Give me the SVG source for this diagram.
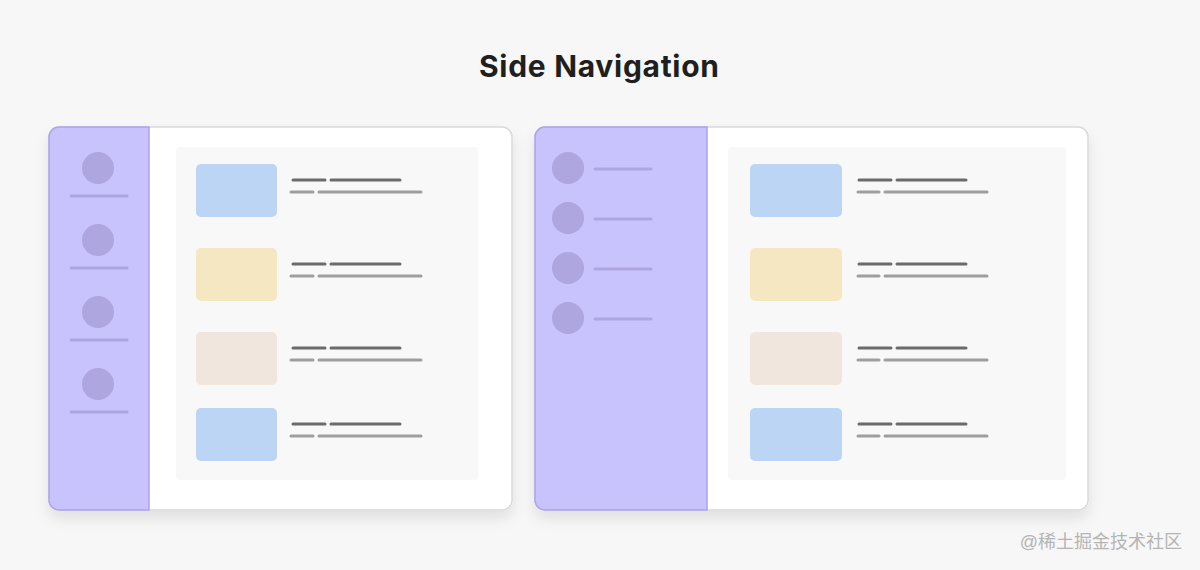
<svg xmlns="http://www.w3.org/2000/svg" width="1200" height="570" viewBox="0 0 1200 570">
  <defs>
    <filter id="shadow" x="-10%" y="-10%" width="120%" height="130%">
      <feDropShadow dx="0" dy="8" stdDeviation="7" flood-color="#000" flood-opacity="0.09"/>
    </filter>
    <style>
      .card{fill:#ffffff;stroke:#dadada;stroke-width:1.5}
      .side{fill:#c8c3fd;stroke:#aba4ea;stroke-width:1.5}
      .panel{fill:#f8f8f8}
      .icon{fill:#aea6de}
      .navline{stroke:#aea6de;stroke-width:3;stroke-linecap:round}
      .l1{stroke:#6b6b6b;stroke-width:3;stroke-linecap:round}
      .l2{stroke:#9e9e9e;stroke-width:3;stroke-linecap:round}
      .blue{fill:#bcd5f5}
      .yellow{fill:#f5e7c1}
      .beige{fill:#f1e6dd}
      .title{font-family:Inter,"Liberation Sans",sans-serif;font-weight:700;font-size:30px;fill:#1f1f1f}
      .wm{font-family:"Liberation Sans","Noto Sans CJK SC",sans-serif;font-size:18px;fill:#b4b4b4}
    </style>
  </defs>
  <rect width="1200" height="570" fill="#f7f7f7"/>
  <text class="title" x="479" y="77" textLength="240" lengthAdjust="spacing">Side Navigation</text>

  <g id="card-left">
    <rect class="card" x="49" y="127" width="463" height="383" rx="10" filter="url(#shadow)"/>
    <path class="side" d="M149,127 H59 A10,10 0 0 0 49,137 V500 A10,10 0 0 0 59,510 H149 Z"/>
    <g id="left-nav">
      <circle class="icon" cx="98" cy="168" r="16"/>
      <line class="navline" x1="71" y1="196" x2="127" y2="196"/>
      <circle class="icon" cx="98" cy="240" r="16"/>
      <line class="navline" x1="71" y1="268" x2="127" y2="268"/>
      <circle class="icon" cx="98" cy="312" r="16"/>
      <line class="navline" x1="71" y1="340" x2="127" y2="340"/>
      <circle class="icon" cx="98" cy="384" r="16"/>
      <line class="navline" x1="71" y1="412" x2="127" y2="412"/>
    </g>
    <rect class="panel" x="176" y="147" width="302" height="333" rx="4"/>
    <g id="left-items">
      <rect class="blue" x="196" y="164" width="81" height="53" rx="5"/>
      <line class="l1" x1="293" y1="180" x2="325" y2="180"/><line class="l1" x1="331" y1="180" x2="400" y2="180"/>
      <line class="l2" x1="291" y1="192" x2="313" y2="192"/><line class="l2" x1="319" y1="192" x2="421" y2="192"/>

      <rect class="yellow" x="196" y="248" width="81" height="53" rx="5"/>
      <line class="l1" x1="293" y1="264" x2="325" y2="264"/><line class="l1" x1="331" y1="264" x2="400" y2="264"/>
      <line class="l2" x1="291" y1="276" x2="313" y2="276"/><line class="l2" x1="319" y1="276" x2="421" y2="276"/>

      <rect class="beige" x="196" y="332" width="81" height="53" rx="5"/>
      <line class="l1" x1="293" y1="348" x2="325" y2="348"/><line class="l1" x1="331" y1="348" x2="400" y2="348"/>
      <line class="l2" x1="291" y1="360" x2="313" y2="360"/><line class="l2" x1="319" y1="360" x2="421" y2="360"/>

      <rect class="blue" x="196" y="408" width="81" height="53" rx="5"/>
      <line class="l1" x1="293" y1="424" x2="325" y2="424"/><line class="l1" x1="331" y1="424" x2="400" y2="424"/>
      <line class="l2" x1="291" y1="436" x2="313" y2="436"/><line class="l2" x1="319" y1="436" x2="421" y2="436"/>
    </g>
  </g>

  <g id="card-right">
    <rect class="card" x="535" y="127" width="553" height="383" rx="10" filter="url(#shadow)"/>
    <path class="side" d="M707,127 H545 A10,10 0 0 0 535,137 V500 A10,10 0 0 0 545,510 H707 Z"/>
    <g id="right-nav">
      <circle class="icon" cx="568" cy="168" r="16"/>
      <line class="navline" x1="595" y1="169" x2="651" y2="169"/>
      <circle class="icon" cx="568" cy="218" r="16"/>
      <line class="navline" x1="595" y1="219" x2="651" y2="219"/>
      <circle class="icon" cx="568" cy="268" r="16"/>
      <line class="navline" x1="595" y1="269" x2="651" y2="269"/>
      <circle class="icon" cx="568" cy="318" r="16"/>
      <line class="navline" x1="595" y1="319" x2="651" y2="319"/>
    </g>
    <rect class="panel" x="728" y="147" width="338" height="333" rx="4"/>
    <g id="right-items">
      <rect class="blue" x="750" y="164" width="92" height="53" rx="5"/>
      <line class="l1" x1="859" y1="180" x2="891" y2="180"/><line class="l1" x1="897" y1="180" x2="966" y2="180"/>
      <line class="l2" x1="858" y1="192" x2="879" y2="192"/><line class="l2" x1="885" y1="192" x2="987" y2="192"/>

      <rect class="yellow" x="750" y="248" width="92" height="53" rx="5"/>
      <line class="l1" x1="859" y1="264" x2="891" y2="264"/><line class="l1" x1="897" y1="264" x2="966" y2="264"/>
      <line class="l2" x1="858" y1="276" x2="879" y2="276"/><line class="l2" x1="885" y1="276" x2="987" y2="276"/>

      <rect class="beige" x="750" y="332" width="92" height="53" rx="5"/>
      <line class="l1" x1="859" y1="348" x2="891" y2="348"/><line class="l1" x1="897" y1="348" x2="966" y2="348"/>
      <line class="l2" x1="858" y1="360" x2="879" y2="360"/><line class="l2" x1="885" y1="360" x2="987" y2="360"/>

      <rect class="blue" x="750" y="408" width="92" height="53" rx="5"/>
      <line class="l1" x1="859" y1="424" x2="891" y2="424"/><line class="l1" x1="897" y1="424" x2="966" y2="424"/>
      <line class="l2" x1="858" y1="436" x2="879" y2="436"/><line class="l2" x1="885" y1="436" x2="987" y2="436"/>
    </g>
  </g>

  <text class="wm" x="1182" y="548" text-anchor="end">@稀土掘金技术社区</text>
</svg>
